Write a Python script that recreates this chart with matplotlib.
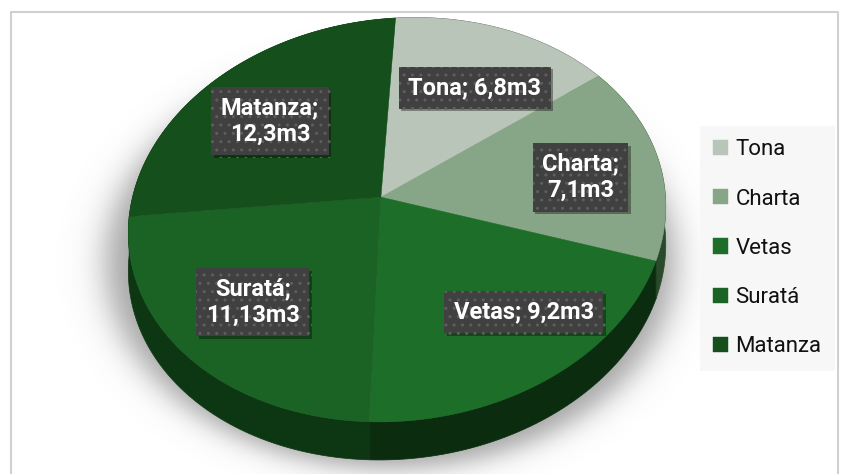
import numpy as np
import matplotlib.pyplot as plt
from matplotlib.patches import Polygon
import matplotlib.patheffects as pe

plt.rcParams['font.family'] = ['Roboto', 'DejaVu Sans']
plt.rcParams['hatch.linewidth'] = 1.0

# === Data ===
regions = ['Tona', 'Charta', 'Vetas', 'Suratá', 'Matanza']
volumes = [6.8, 7.1, 9.2, 11.13, 12.3]
data_labels = ['Tona; 6,8m3', 'Charta;\n7,1m3', 'Vetas; 9,2m3',
               'Suratá;\n11,13m3', 'Matanza;\n12,3m3']
top_colors = ['#b9c5b9', '#87a587', '#1c6e29', '#1b6225', '#144f1c']
side_colors = ['#3a4a3a', '#2a4a2c', '#0b2c0e', '#0d3712', '#0b3310']

W, H = 841, 474
DEPTH = 38


def homography(src, dst, wts):
    A, b = [], []
    for (x, y), (u, v), w in zip(src, dst, wts):
        A.append([w * x, w * y, w, 0, 0, 0, -w * u * x, -w * u * y]); b.append(w * u)
        A.append([0, 0, 0, w * x, w * y, w, -w * v * x, -w * v * y]); b.append(w * v)
    h = np.linalg.lstsq(np.array(A, float), np.array(b, float), rcond=None)[0]
    return np.append(h, 1).reshape(3, 3)


def circ(phi_deg, r=1.0):
    p = np.radians(phi_deg)
    return r * np.sin(p), -r * np.cos(p)


# perspective of the pie top (unit circle -> pixels)
src = [circ(0), circ(180), circ(265), circ(107.5), circ(52.6)]
dst = [(397, 17), (362, 420), (129, 217), (658, 262), (582, 78)]
Hm = homography(src, dst, [1, 1, 1, 1, 0.4])


def project(X, Y):
    X = np.atleast_1d(X); Y = np.atleast_1d(Y)
    P = Hm @ np.vstack([X, Y, np.ones_like(X)])
    return P[0] / P[2], P[1] / P[2]


fig = plt.figure(figsize=(W / 100, H / 100), dpi=100)
ax = fig.add_axes([0, 0, 1, 1])
ax.set_xlim(0, W)
ax.set_ylim(H, 0)
ax.axis('off')

# soft shadow under the pie
yy, xx = np.mgrid[0:H, 0:W]
d = np.sqrt(((xx - 390) / 290) ** 2 + ((yy - 262) / 210) ** 2)
alpha = 0.55 / (1 + np.exp((d - 0.98) / 0.035))
shadow = np.zeros((H, W, 4))
shadow[..., :3] = 0.35
shadow[..., 3] = alpha
ax.imshow(shadow, extent=(0, W, H, 0), zorder=0, aspect='auto', interpolation='bilinear')

# outer chart frame
ax.plot([11, 11, 838, 838], [H, 12, 12, H], color='#d0d0d0', lw=1.5, zorder=1)

total = sum(volumes)
bounds = np.concatenate([[0], np.cumsum(volumes)]) / total * 360
cx0, cy0 = project(0, 0)

# side walls first
for i in range(len(volumes)):
    phis = np.linspace(bounds[i], bounds[i + 1], 120)
    px, py = project(*circ(phis))
    xs = np.concatenate([px, px[::-1]])
    ys = np.concatenate([py, py[::-1] + DEPTH])
    ax.add_patch(Polygon(np.column_stack([xs, ys]), closed=True,
                         facecolor=side_colors[i], edgecolor=side_colors[i],
                         lw=0.5, zorder=2))

# top faces
tops = []
for i in range(len(volumes)):
    phis = np.linspace(bounds[i], bounds[i + 1], 120)
    px, py = project(*circ(phis))
    xs = np.concatenate([[cx0[0]], px])
    ys = np.concatenate([[cy0[0]], py])
    patch = Polygon(np.column_stack([xs, ys]), closed=True,
                    facecolor=top_colors[i], edgecolor=top_colors[i],
                    lw=0.3, zorder=3, label=regions[i])
    ax.add_patch(patch)
    tops.append(patch)

# data labels, nudged like Excel's best-fit placement
nudges = [(8, 7), (14, 6), (34, -3), (4, 0), (5, 7)]
for i, txt in enumerate(data_labels):
    mid = (bounds[i] + bounds[i + 1]) / 2
    lx, ly = project(*circ(mid, 0.68))
    t = ax.text(lx[0] + nudges[i][0], ly[0] + nudges[i][1], txt,
                ha='center', va='center', color='white',
                fontsize=17, fontweight='bold', linespacing=1.2, zorder=5,
                bbox=dict(boxstyle='square,pad=0.4', facecolor='#404040',
                          edgecolor='#5e5e5e', lw=0, hatch='..'))
    t.get_bbox_patch().set_path_effects([
        pe.SimplePatchShadow(offset=(2, -2), shadow_rgbFace='black', alpha=0.35),
        pe.Normal()])

leg = ax.legend(handles=tops, loc='upper left', bbox_to_anchor=(700, 126),
                bbox_transform=ax.transData, borderaxespad=0, fontsize=16,
                handlelength=0.68, handleheight=0.68, handletextpad=0.32,
                labelspacing=1.27, borderpad=0.6, fancybox=False,
                facecolor='#f7f7f7', edgecolor='none', framealpha=1)
for txt in leg.get_texts():
    txt.set_color('#111111')

fig.savefig('out.png', dpi=100)
